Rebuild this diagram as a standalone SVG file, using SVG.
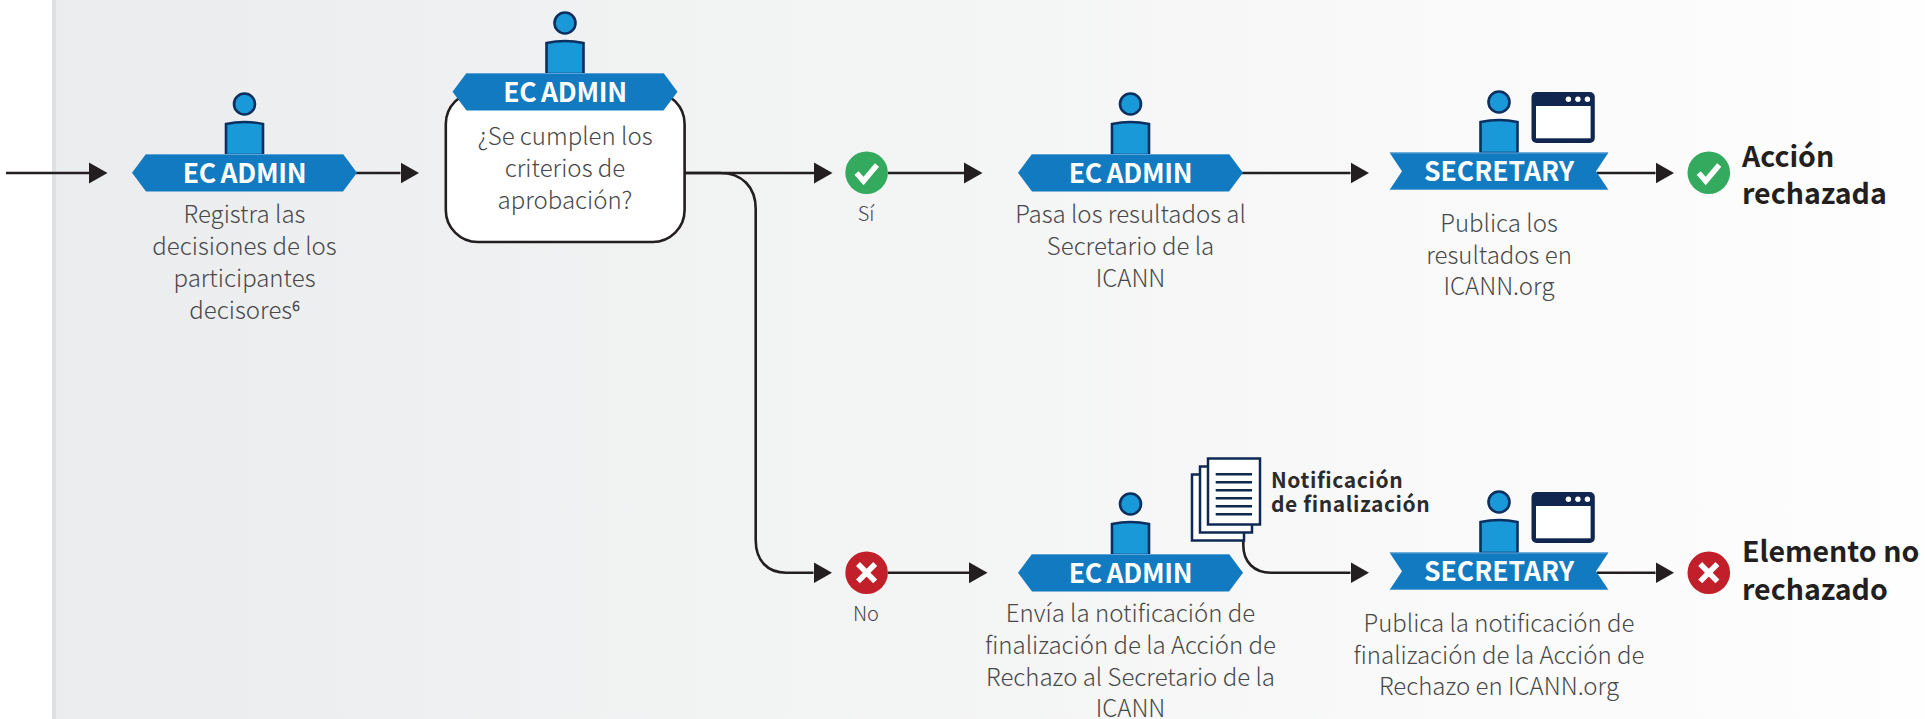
<svg xmlns="http://www.w3.org/2000/svg" xmlns:xlink="http://www.w3.org/1999/xlink" width="1925" height="719" viewBox="0 0 1925 719">
<style>
text{font-family:"Noto Sans CJK SC","Noto Sans",sans-serif}
.d{font-family:"Noto Sans CJK SC Light","Noto Sans CJK SC DemiLight","Noto Sans CJK SC","Noto Sans",sans-serif;font-size:24px;font-weight:300;fill:#48484a;text-anchor:middle}
.b{font-size:26.500px;font-weight:700;fill:#fff;text-anchor:middle}
.e{word-spacing:-1px;letter-spacing:-.3px}
.r{font-size:28.500px;font-weight:700;fill:#231f20}
.n{font-size:21px;font-weight:700;fill:#2b2b2d;letter-spacing:.6px}
.c{fill:none;stroke:#231f20;stroke-width:2.6}
.sup{font-size:14px;font-weight:700}
</style>
<defs>
<linearGradient id="bg" x1="0" x2="1" y1="0" y2="0"><stop offset="0" stop-color="#ebeced"/><stop offset="1" stop-color="#fefefe"/></linearGradient>
<marker id="a" markerUnits="userSpaceOnUse" markerWidth="19" markerHeight="22" refX="0" refY="11" orient="auto"><path d="M0 .5L18.500 11L0 21.500Z" fill="#231f20"/></marker>
<g id="person"><circle cx="0" cy="-50" r="10.500" fill="#1a99d9" stroke="#0b2f5f" stroke-width="2.600"/><path d="M-18.500 1V-30Q0-34 18.500-30V1Z" fill="#1a99d9" stroke="#0b2f5f" stroke-width="2.600"/></g>
<g id="hex"><path d="M-112.500 18.700L-98.500 0H98.500L112.500 18.700L98.500 37.400H-98.500Z" fill="#127ac0"/><path d="M-98.500 .5H98.500" stroke="#5ea3d5" stroke-width="1"/></g>
<g id="rib"><path d="M-109.500 0H109.500L97 18.700L109.500 37.400H-109.500L-97 18.700Z" fill="#127ac0"/><path d="M-109 .5H109M-109 36.900H109" stroke="#5ea3d5" stroke-width="1"/></g>
<g id="win"><rect x="1531.500" y="0" width="63.300" height="51" rx="5" fill="#10264f"/><rect x="1536" y="14" width="54.600" height="32.300" fill="#fff"/><circle cx="1568.400" cy="7.300" r="2.700" fill="#fff"/><circle cx="1577.900" cy="7.300" r="2.700" fill="#fff"/><circle cx="1587.400" cy="7.300" r="2.700" fill="#fff"/></g>
</defs>
<rect x="52" y="0" width="4" height="719" fill="#dfe0e1"/>
<rect x="56" y="0" width="1869" height="719" fill="url(#bg)"/>
<g id="connectors">
<path class="c" d="M6 173H89" marker-end="url(#a)"/>
<path class="c" d="M356 173H400.500" marker-end="url(#a)"/>
<path class="c" d="M684 173H814" marker-end="url(#a)"/>
<path class="c" d="M684 173H720C742 173 755.700 187 755.700 209V540C755.700 561 768 572.700 786 572.700H813.500" marker-end="url(#a)"/>
<path class="c" d="M888 173H964" marker-end="url(#a)"/>
<path class="c" d="M888 572.700H969" marker-end="url(#a)"/>
<path class="c" d="M1242 173H1350.500" marker-end="url(#a)"/>
<path class="c" d="M1243.300 540V545C1243.300 562 1254 572.700 1271 572.700H1350.500" marker-end="url(#a)"/>
<path class="c" d="M1597 173H1655.500" marker-end="url(#a)"/>
<path class="c" d="M1597 572.700H1655.500" marker-end="url(#a)"/>
</g>
<g id="n1">
<use xlink:href="#person" href="#person" x="244.500" y="154"/><use xlink:href="#hex" href="#hex" x="244.500" y="154"/>
<text class="b e" x="244.500" y="182.500">EC ADMIN</text>
<text class="d" x="244.500" y="222.700">Registra las</text><text class="d" x="244.500" y="255">decisiones de los</text><text class="d" x="244.500" y="286.700">participantes</text><text class="d" x="244.500" y="319">decisores<tspan class="sup" dy="-8">6</tspan></text>
</g>
<g id="n2">
<rect x="445.800" y="92" width="238.800" height="150" rx="32" fill="#fff" stroke="#231f20" stroke-width="2.600"/>
<use xlink:href="#person" href="#person" x="565" y="73"/><use xlink:href="#hex" href="#hex" x="565" y="73"/>
<text class="b e" x="565" y="101.500">EC ADMIN</text>
<text class="d" x="565" y="145">¿Se cumplen los</text><text class="d" x="565" y="177">criterios de</text><text class="d" x="565" y="209">aprobación?</text>
</g>
<g id="yes"><circle cx="866.600" cy="172.700" r="21.300" fill="#34aa5e"/><path d="M856.500 173L863.500 181L877 165" fill="none" stroke="#fff" stroke-width="5.500"/><text class="d" x="866" y="221" style="font-size:20px">Sí</text></g>
<g id="no"><circle cx="866.600" cy="572.700" r="21.300" fill="#c1202a"/><path d="M858 564L875.200 581.400M875.200 564L858 581.400" fill="none" stroke="#fff" stroke-width="5.500"/><text class="d" x="866" y="621" style="font-size:20px">No</text></g>
<g id="n3">
<use xlink:href="#person" href="#person" x="1130.500" y="154"/><use xlink:href="#hex" href="#hex" x="1130.500" y="154"/>
<text class="b e" x="1130.500" y="182.500">EC ADMIN</text>
<text class="d" x="1130.500" y="222.700">Pasa los resultados al</text><text class="d" x="1130.500" y="254.500">Secretario de la</text><text class="d" x="1130.500" y="286.500">ICANN</text>
</g>
<g id="n4">
<use xlink:href="#person" href="#person" x="1499" y="152"/><use xlink:href="#win" href="#win" x="0" y="92"/><use xlink:href="#rib" href="#rib" x="1499" y="152.500"/>
<text class="b" x="1499" y="181">SECRETARY</text>
<text class="d" x="1499" y="231.700">Publica los</text><text class="d" x="1499" y="263.500">resultados en</text><text class="d" x="1499" y="295">ICANN.org</text>
</g>
<g id="n5"><circle cx="1708.800" cy="172.700" r="21.300" fill="#34aa5e"/><path d="M1698.700 173L1705.700 181L1719.200 165" fill="none" stroke="#fff" stroke-width="5.500"/><text class="r" x="1742" y="166.500">Acción</text><text class="r" x="1742" y="203.500">rechazada</text></g>
<g id="n6">
<use xlink:href="#person" href="#person" x="1130.500" y="554"/><use xlink:href="#hex" href="#hex" x="1130.500" y="554"/>
<text class="b e" x="1130.500" y="582.500">EC ADMIN</text>
<text class="d" x="1130.500" y="621.700">Envía la notificación de</text><text class="d" x="1130.500" y="653.500">finalización de la Acción de</text><text class="d" x="1130.500" y="685.500">Rechazo al Secretario de la</text><text class="d" x="1130.500" y="717">ICANN</text>
</g>
<g id="doc" fill="#fff" stroke="#0f2a52" stroke-width="2.500">
<rect x="1192" y="474.500" width="52" height="66"/><rect x="1200" y="466.500" width="52" height="66"/><rect x="1208" y="458.500" width="52" height="66"/>
<path d="M1215.700 474.300H1252M1215.700 482.300H1252M1215.700 490.300H1252M1215.700 498.300H1252M1215.700 506.300H1252M1215.700 514.300H1252"/>
<text class="n" x="1271" y="487.700" stroke="none">Notificación</text><text class="n" x="1271" y="511.700" stroke="none">de finalización</text>
</g>
<g id="n7">
<use xlink:href="#person" href="#person" x="1499" y="552"/><use xlink:href="#win" href="#win" x="0" y="492"/><use xlink:href="#rib" href="#rib" x="1499" y="552.500"/>
<text class="b" x="1499" y="581">SECRETARY</text>
<text class="d" x="1499" y="631.700">Publica la notificación de</text><text class="d" x="1499" y="663.500">finalización de la Acción de</text><text class="d" x="1499" y="695">Rechazo en ICANN.org</text>
</g>
<g id="n8"><circle cx="1708.800" cy="572.700" r="21.300" fill="#c1202a"/><path d="M1700.200 564L1717.400 581.400M1717.400 564L1700.200 581.400" fill="none" stroke="#fff" stroke-width="5.500"/><text class="r" x="1742" y="562">Elemento no</text><text class="r" x="1742" y="599.500">rechazado</text></g>
</svg>
